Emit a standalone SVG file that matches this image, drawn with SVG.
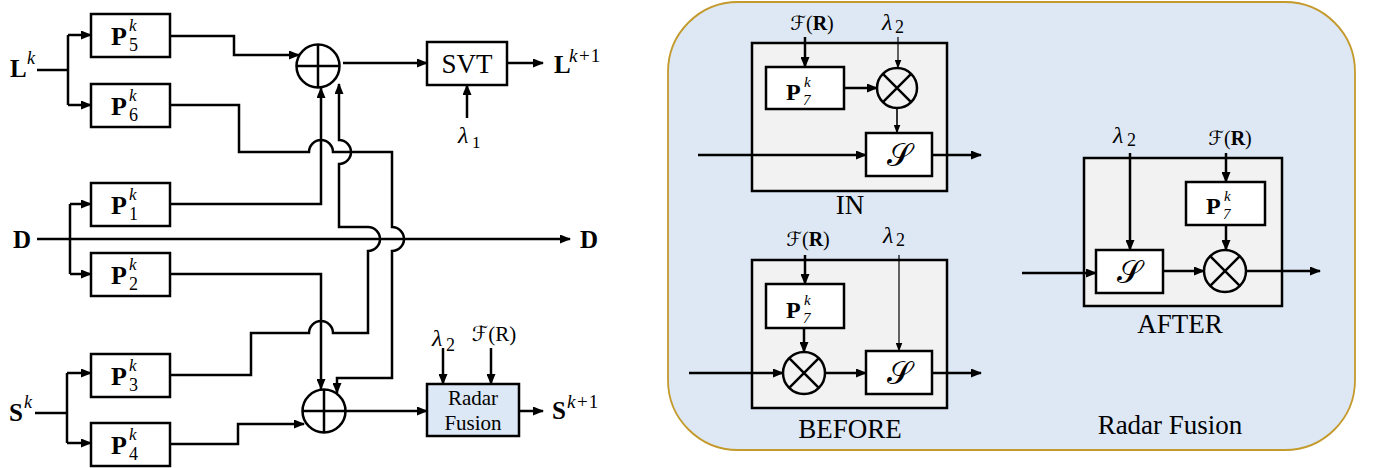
<svg xmlns="http://www.w3.org/2000/svg" width="1377" height="468" viewBox="0 0 1377 468" font-family="'Liberation Serif','Times New Roman',serif">
<defs>
<marker id="ah" markerUnits="userSpaceOnUse" markerWidth="11" markerHeight="9" refX="10" refY="4.5" orient="auto" viewBox="0 0 11 9"><path d="M0,0 L11,4.5 L0,9 z" fill="#000"/></marker>
<marker id="ahs" markerUnits="userSpaceOnUse" markerWidth="9" markerHeight="7" refX="8.5" refY="3.5" orient="auto" viewBox="0 0 9 7"><path d="M0,0 L9,3.5 L0,7 z" fill="#000"/></marker>
</defs>
<style>
.box{fill:#fff;stroke:#000;stroke-width:2.5}
.blk{fill:#f2f2f2;stroke:#000;stroke-width:2.5}
.rf{fill:#dce8f5;stroke:#000;stroke-width:2.5}
.ln{fill:none;stroke:#000;stroke-width:2.5}
.ar{fill:none;stroke:#000;stroke-width:2.5;marker-end:url(#ah)}
.tn{fill:none;stroke:#000;stroke-width:1.2;marker-end:url(#ahs)}
.md{fill:none;stroke:#000;stroke-width:1.6;marker-end:url(#ahs)}
.op{fill:none;stroke:#000;stroke-width:2.5}
text{font-family:"Liberation Serif","Times New Roman",serif;fill:#000}
.b{font-weight:bold}
.i{font-style:italic}
.n{font-weight:normal;font-style:normal}
.ki{font-weight:normal;font-style:italic}
.P{font-weight:bold;font-size:26px}
.sp{font-weight:normal;font-style:italic;font-size:17px}
.sb{font-weight:normal;font-size:18px}
.P7{font-weight:bold;font-size:24px}
.s7{font-weight:normal;font-style:italic;font-size:15px}
.cal{font-family:"DejaVu Sans","Noto Sans","DejaVu Serif",sans-serif}
.scr{font-family:"DejaVu Serif","DejaVu Sans","Noto Sans",serif;font-size:32px}
</style>

<!-- ===== LEFT DIAGRAM ===== -->
<g id="connectors-left">
<path class="ln" d="M37,70 H68 M68,35 V105"/>
<path class="ar" d="M68,35 H91"/>
<path class="ar" d="M68,105 H91"/>
<path class="ar" d="M37,239 H570"/>
<path class="ln" d="M70,204 V274"/>
<path class="ar" d="M70,204 H91"/>
<path class="ar" d="M70,274 H91"/>
<path class="ln" d="M35,413 H67 M67,373 V443"/>
<path class="ar" d="M67,373 H91"/>
<path class="ar" d="M67,443 H91"/>
<path class="ar" d="M170,36 H234 V55 H299"/>
<path class="ar" d="M170,204 H321 V88"/>
<path class="ar" d="M170,375 H251 V333 H309 A12,12 0 0 1 333,333 H368 V251 A12,12 0 0 0 368,227 H339 V164 A12,12 0 0 0 339,140 V84"/>
<path class="ar" d="M170,105 H239 V152 H309 A12,12 0 0 1 333,152 H392 V227 A12,12 0 0 1 392,251 V378 H337 V393"/>
<path class="ar" d="M170,274 H321 V389"/>
<path class="ar" d="M170,444 H238 V424 H304"/>
<path class="ar" d="M343,63 H427"/>
<path class="ar" d="M507,63 H543"/>
<path class="ar" d="M467,118 V85"/>
<path class="ar" d="M346,411 H427"/>
<path class="ar" d="M519,411 H543"/>
<path class="ar" d="M443,348 V384"/>
<path class="ar" d="M491,348 V384"/>
</g>

<g id="label-Lk"><text class="b" x="10" y="77" font-size="25">L<tspan class="ki" font-size="18" x="27" y="64">k</tspan></text></g>
<g id="label-D"><text class="b" x="13" y="248" font-size="25">D</text></g>
<g id="label-Sk"><text class="b" x="9" y="421" font-size="25">S<tspan class="ki" font-size="18" x="24" y="408">k</tspan></text></g>

<g id="P5"><rect class="box" x="91" y="14" width="79" height="43"/><text class="P" x="111" y="45">P<tspan class="sp" x="129" y="31">k</tspan><tspan class="sb" x="129" y="51">5</tspan></text></g>
<g id="P6"><rect class="box" x="91" y="84" width="79" height="43"/><text class="P" x="111" y="115">P<tspan class="sp" x="129" y="101">k</tspan><tspan class="sb" x="129" y="121">6</tspan></text></g>
<g id="P1"><rect class="box" x="91" y="183" width="79" height="43"/><text class="P" x="111" y="214">P<tspan class="sp" x="129" y="200">k</tspan><tspan class="sb" x="129" y="220">1</tspan></text></g>
<g id="P2"><rect class="box" x="91" y="253" width="79" height="43"/><text class="P" x="111" y="284">P<tspan class="sp" x="129" y="270">k</tspan><tspan class="sb" x="129" y="290">2</tspan></text></g>
<g id="P3"><rect class="box" x="91" y="354" width="79" height="43"/><text class="P" x="111" y="385">P<tspan class="sp" x="129" y="371">k</tspan><tspan class="sb" x="129" y="391">3</tspan></text></g>
<g id="P4"><rect class="box" x="91" y="423" width="79" height="43"/><text class="P" x="111" y="454">P<tspan class="sp" x="129" y="440">k</tspan><tspan class="sb" x="129" y="460">4</tspan></text></g>

<g id="sum1"><circle class="op" fill="#fff" cx="318" cy="66" r="21.5"/><path class="op" d="M296.5,66 H339.5 M318,44.5 V87.5"/></g>
<g id="sum2"><circle class="op" fill="#fff" cx="324" cy="411" r="21.5"/><path class="op" d="M302.5,411 H345.5 M324,389.5 V432.5"/></g>

<g id="SVT"><rect class="box" x="427" y="42" width="80" height="43"/><text x="467" y="73" font-size="27" text-anchor="middle">SVT</text></g>
<g id="label-lambda1"><text class="i" x="458" y="143" font-size="24">λ<tspan class="n" font-size="17" x="472" y="148">1</tspan></text></g>
<g id="label-Lk1"><text class="b" x="554" y="73" font-size="25">L<tspan class="n" font-size="19" x="569" y="62"><tspan class="i">k</tspan><tspan dx="1.5">+</tspan><tspan dx="1">1</tspan></tspan></text></g>
<g id="label-D-out"><text class="b" x="580" y="248" font-size="25">D</text></g>

<g id="RadarFusion"><rect class="rf" x="427" y="384" width="92" height="52"/><text x="473" y="405" font-size="21" text-anchor="middle">Radar</text><text x="473" y="430" font-size="21" text-anchor="middle">Fusion</text></g>
<g id="label-lambda2-left"><text class="i" x="432" y="346" font-size="24">λ<tspan class="n" font-size="18" x="446" y="351">2</tspan></text></g>
<g id="label-FR-left"><text x="494" y="341" font-size="21" text-anchor="middle"><tspan class="cal">ℱ</tspan>(R)</text></g>
<g id="label-Sk1"><text class="b" x="552" y="419" font-size="25">S<tspan class="n" font-size="19" x="567" y="408"><tspan class="i">k</tspan><tspan dx="1.5">+</tspan><tspan dx="1">1</tspan></tspan></text></g>

<!-- ===== RIGHT PANEL ===== -->
<g id="panel"><rect x="668" y="2" width="687" height="448" rx="70" ry="70" fill="#dde8f4" stroke="#c49a2c" stroke-width="1.8"/></g>

<g id="IN">
<rect class="blk" x="752" y="43" width="195" height="148"/>
<rect class="box" x="766" y="67" width="78" height="42"/>
<text class="P7" x="786" y="100">P<tspan class="s7" x="804" y="87">k</tspan><tspan class="s7" x="803" y="105">7</tspan></text>
<circle class="op" fill="none" cx="897" cy="88" r="20"/><path class="op" d="M882.9,73.9 L911.1,102.1 M911.1,73.9 L882.9,102.1"/>
<rect class="box" x="866" y="133" width="66" height="43"/>
<text class="scr" x="899" y="166" text-anchor="middle">𝒮</text>
<text x="812" y="30" font-size="20" text-anchor="middle"><tspan class="cal">ℱ</tspan>(<tspan class="b">R</tspan>)</text>
<text class="i" x="882" y="30" font-size="24">λ<tspan class="n" font-size="18" x="895" y="33">2</tspan></text>
<text x="850" y="214" font-size="27" text-anchor="middle">IN</text>
</g>

<g id="BEFORE">
<rect class="blk" x="752" y="260" width="195" height="148"/>
<rect class="box" x="766" y="284" width="78" height="44"/>
<text class="P7" x="786" y="318">P<tspan class="s7" x="804" y="305">k</tspan><tspan class="s7" x="803" y="323">7</tspan></text>
<circle class="op" fill="none" cx="804" cy="373" r="21"/><path class="op" d="M789.2,358.2 L818.8,387.8 M818.8,358.2 L789.2,387.8"/>
<rect class="box" x="866" y="351" width="66" height="43"/>
<text class="scr" x="899" y="384" text-anchor="middle">𝒮</text>
<text x="808" y="246" font-size="20" text-anchor="middle"><tspan class="cal">ℱ</tspan>(<tspan class="b">R</tspan>)</text>
<text class="i" x="883" y="243" font-size="24">λ<tspan class="n" font-size="18" x="896" y="246">2</tspan></text>
<text x="850" y="438" font-size="27" text-anchor="middle">BEFORE</text>
</g>

<g id="AFTER">
<rect class="blk" x="1084" y="158" width="198" height="148"/>
<rect class="box" x="1186" y="182" width="79" height="43"/>
<text class="P7" x="1206" y="214">P<tspan class="s7" x="1224" y="201">k</tspan><tspan class="s7" x="1223" y="219">7</tspan></text>
<rect class="box" x="1096" y="250" width="67" height="43"/>
<text class="scr" x="1129.5" y="283" text-anchor="middle">𝒮</text>
<circle class="op" fill="none" cx="1225" cy="271" r="21"/><path class="op" d="M1210.2,256.2 L1239.8,285.8 M1239.8,256.2 L1210.2,285.8"/>
<text class="i" x="1113" y="143" font-size="24">λ<tspan class="n" font-size="18" x="1127" y="146">2</tspan></text>
<text x="1230" y="145" font-size="20" text-anchor="middle"><tspan class="cal">ℱ</tspan>(<tspan class="b">R</tspan>)</text>
<text x="1180" y="333" font-size="27" text-anchor="middle">AFTER</text>
</g>

<g id="label-RadarFusion"><text x="1170" y="434" font-size="27" text-anchor="middle">Radar Fusion</text></g>

<g id="connectors-right">
<path class="ar" d="M805,37 V67"/>
<path class="tn" d="M898,37 V68"/>
<path class="ar" d="M844,88 H877"/>
<path class="md" d="M897,108 V133"/>
<path class="ar" d="M698,155 H866"/>
<path class="ar" d="M932,155 H981"/>
<path class="ar" d="M805,255 V284"/>
<path class="tn" d="M899,255 V351"/>
<path class="ar" d="M804,328 V352"/>
<path class="ar" d="M689,373 H783"/>
<path class="ar" d="M825,373 H866"/>
<path class="ar" d="M932,373 H981"/>
<path class="ar" d="M1130,153 V250"/>
<path class="ar" d="M1226,153 V182"/>
<path class="ar" d="M1226,225 V250"/>
<path class="ar" d="M1163,271 H1204"/>
<path class="ar" d="M1022,273 H1096"/>
<path class="ar" d="M1246,271 H1320"/>
</g>
</svg>
